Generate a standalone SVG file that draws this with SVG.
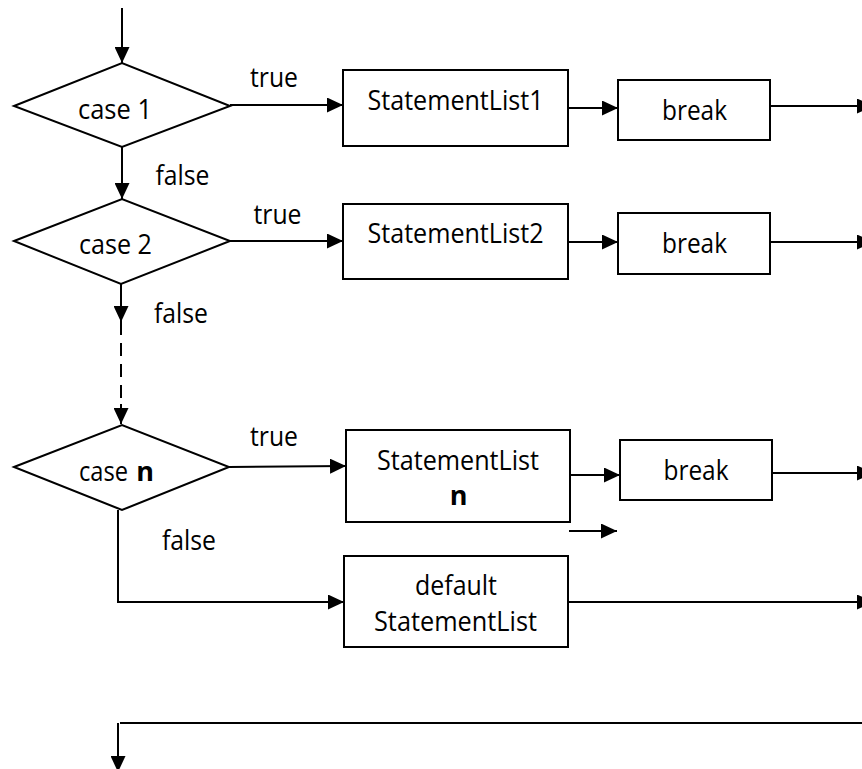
<svg xmlns="http://www.w3.org/2000/svg" width="862" height="769" viewBox="0 0 862 769">
<style>
.shape{fill:#fff;stroke:#000;stroke-width:2}
.ln{fill:none;stroke:#000;stroke-width:2}
.arr{marker-end:url(#ah)}
.dash{stroke-dasharray:13 8}
text{font-family:"Open Sans","Liberation Sans",sans-serif;font-size:27px;fill:#000;text-anchor:middle}
.b{font-weight:bold}
</style>
<defs>
<marker id="ah" markerUnits="userSpaceOnUse" markerWidth="16" markerHeight="15" refX="16" refY="7.5" orient="auto">
<path d="M0,0 L16,7.5 L0,15 z" fill="#000"/>
</marker>
</defs>
<rect width="862" height="769" fill="#fff"/>
<g id="connectors">
<path class="ln arr" d="M122,8 V63"/>
<path class="ln arr" d="M122,147 V199"/>
<path class="ln arr" d="M230,105 H343"/>
<path class="ln arr" d="M568,108 H618"/>
<path class="ln arr" d="M770,106 H873"/>
<path class="ln arr" d="M230,241 H343"/>
<path class="ln arr" d="M568,242 H618"/>
<path class="ln arr" d="M770,242 H873"/>
<path class="ln arr" d="M121,284 V322"/>
<path class="ln dash" d="M121,322 V404"/>
<path class="ln arr" d="M121,404 V424"/>
<path class="ln arr" d="M229,467 L346,466"/>
<path class="ln arr" d="M570,475 H620"/>
<path class="ln arr" d="M772,473 H873"/>
<path class="ln arr" d="M569,531 H617"/>
<path class="ln arr" d="M118,510 V602 H344"/>
<path class="ln arr" d="M568,602 H873"/>
<path class="ln" d="M120,723 H862"/>
<path class="ln arr" d="M118,723 V772"/>
<text x="274" y="87" textLength="48" lengthAdjust="spacingAndGlyphs">true</text>
<text x="182.5" y="185" textLength="54" lengthAdjust="spacingAndGlyphs">false</text>
<text x="277.5" y="224" textLength="48" lengthAdjust="spacingAndGlyphs">true</text>
<text x="181" y="323" textLength="54" lengthAdjust="spacingAndGlyphs">false</text>
<text x="274" y="446" textLength="48" lengthAdjust="spacingAndGlyphs">true</text>
<text x="189" y="550" textLength="54" lengthAdjust="spacingAndGlyphs">false</text>
</g>
<g id="case1">
<polygon class="shape" points="14,106 122,63 230,106 122,147"/>
<text x="115" y="119" textLength="74" lengthAdjust="spacingAndGlyphs">case 1</text>
</g>
<g id="case2">
<polygon class="shape" points="14,241 122,199 230,241 121,284"/>
<text x="115.5" y="254" textLength="73" lengthAdjust="spacingAndGlyphs">case 2</text>
</g>
<g id="casen">
<polygon class="shape" points="14,467 122,425 229,467 122,510"/>
<text x="103.5" y="481" textLength="49" lengthAdjust="spacingAndGlyphs">case</text>
<text class="b" x="145" y="481">n</text>
</g>
<g id="stmt1">
<rect class="shape" x="343" y="70" width="225" height="76"/>
<text x="455.5" y="110" textLength="176" lengthAdjust="spacingAndGlyphs">StatementList1</text>
</g>
<g id="break1">
<rect class="shape" x="618" y="80" width="152" height="60"/>
<text x="694.5" y="120" textLength="65" lengthAdjust="spacingAndGlyphs">break</text>
</g>
<g id="stmt2">
<rect class="shape" x="343" y="204" width="225" height="75"/>
<text x="455.5" y="243" textLength="176" lengthAdjust="spacingAndGlyphs">StatementList2</text>
</g>
<g id="break2">
<rect class="shape" x="618" y="213" width="152" height="61"/>
<text x="694.5" y="253" textLength="65" lengthAdjust="spacingAndGlyphs">break</text>
</g>
<g id="stmtn">
<rect class="shape" x="346" y="430" width="224" height="92"/>
<text x="458" y="470" textLength="162" lengthAdjust="spacingAndGlyphs">StatementList</text>
<text class="b" x="458.5" y="505">n</text>
</g>
<g id="breakn">
<rect class="shape" x="620" y="440" width="152" height="60"/>
<text x="696" y="480" textLength="65" lengthAdjust="spacingAndGlyphs">break</text>
</g>
<g id="default">
<rect class="shape" x="344" y="556" width="224" height="91"/>
<text x="456" y="595" textLength="82" lengthAdjust="spacingAndGlyphs">default</text>
<text x="455.5" y="631" textLength="163" lengthAdjust="spacingAndGlyphs">StatementList</text>
</g>
</svg>
